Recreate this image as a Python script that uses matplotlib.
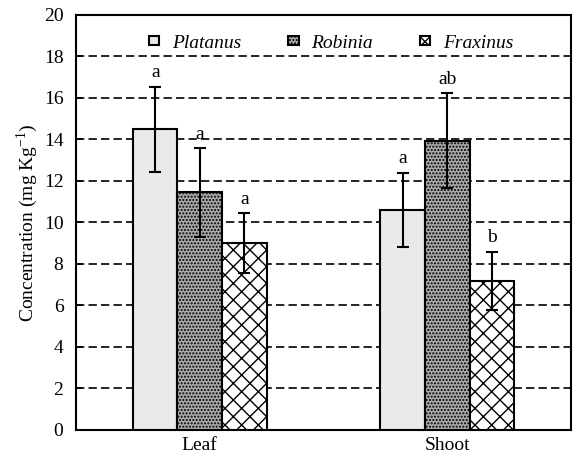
import matplotlib
matplotlib.use("Agg")
import matplotlib.pyplot as plt
import numpy as np

plt.rcParams['font.family'] = ['Liberation Serif', 'DejaVu Serif']
plt.rcParams['mathtext.fontset'] = 'custom'
plt.rcParams['mathtext.rm'] = 'Liberation Serif'
plt.rcParams['hatch.linewidth'] = 1.0

categories = ["Leaf", "Shoot"]
species = ["Platanus", "Robinia", "Fraxinus"]
means = {
    "Platanus": [14.5, 10.6],
    "Robinia": [11.45, 13.95],
    "Fraxinus": [9.0, 7.2],
}
errors = {
    "Platanus": [2.05, 1.8],
    "Robinia": [2.15, 2.3],
    "Fraxinus": [1.45, 1.4],
}
letters = {
    "Platanus": ["a", "a"],
    "Robinia": ["a", "ab"],
    "Fraxinus": ["a", "b"],
}
yticks = [0, 2, 4, 6, 8, 10, 12, 14, 16, 18, 20]

styles = {
    "Platanus": dict(facecolor="#e9e9e9", hatch=None),
    "Robinia": dict(facecolor="#ababab", hatch="....."),
    "Fraxinus": dict(facecolor="white", hatch="xx"),
}

fig = plt.figure(figsize=(5.73, 4.54), dpi=100)
ax = fig.add_axes([0.1326, 0.0529, 0.864, 0.9141])

x = np.arange(len(categories))
w = 0.18
for i, sp in enumerate(species):
    pos = x + (i - 1) * w
    st = styles[sp]
    ax.bar(pos, means[sp], width=w, facecolor=st["facecolor"], hatch=st["hatch"],
           edgecolor="black", linewidth=1.5, zorder=3, label=sp)
    ax.errorbar(pos, means[sp], yerr=errors[sp], fmt="none", ecolor="black",
                elinewidth=1.5, capsize=4, capthick=1.5, zorder=4)
    for p, m, e, l in zip(pos, means[sp], errors[sp], letters[sp]):
        ax.text(p, m + e + 0.25, l, ha="center", va="bottom", fontsize=14, zorder=5)

ax.set_xlim(-0.5, 1.5)
ax.set_ylim(0, 20)
ax.set_yticks(yticks)
ax.set_xticks(x)
ax.set_xticklabels(categories, fontsize=14)
ax.tick_params(axis="y", direction="in", length=4, width=1.2, labelsize=14, pad=9)
ax.tick_params(axis="x", length=0, labelsize=14, pad=5)
for s in ax.spines.values():
    s.set_linewidth(1.5)
ax.yaxis.grid(True, linestyle=(0, (5, 2.5)), color="black", linewidth=1.2, zorder=0)
ax.set_axisbelow(True)
ax.set_ylabel("Concentration (mg Kg$^{\\mathregular{-1}}$)", fontsize=14, labelpad=3)

leg = ax.legend(loc="upper center", bbox_to_anchor=(0.515, 0.995), ncol=3, frameon=False,
                prop=dict(family="Liberation Serif", style="italic", size=14),
                handlelength=0.55, handleheight=0.3, handletextpad=0.65, columnspacing=2.4)

fig.savefig("out.png", dpi=100)
